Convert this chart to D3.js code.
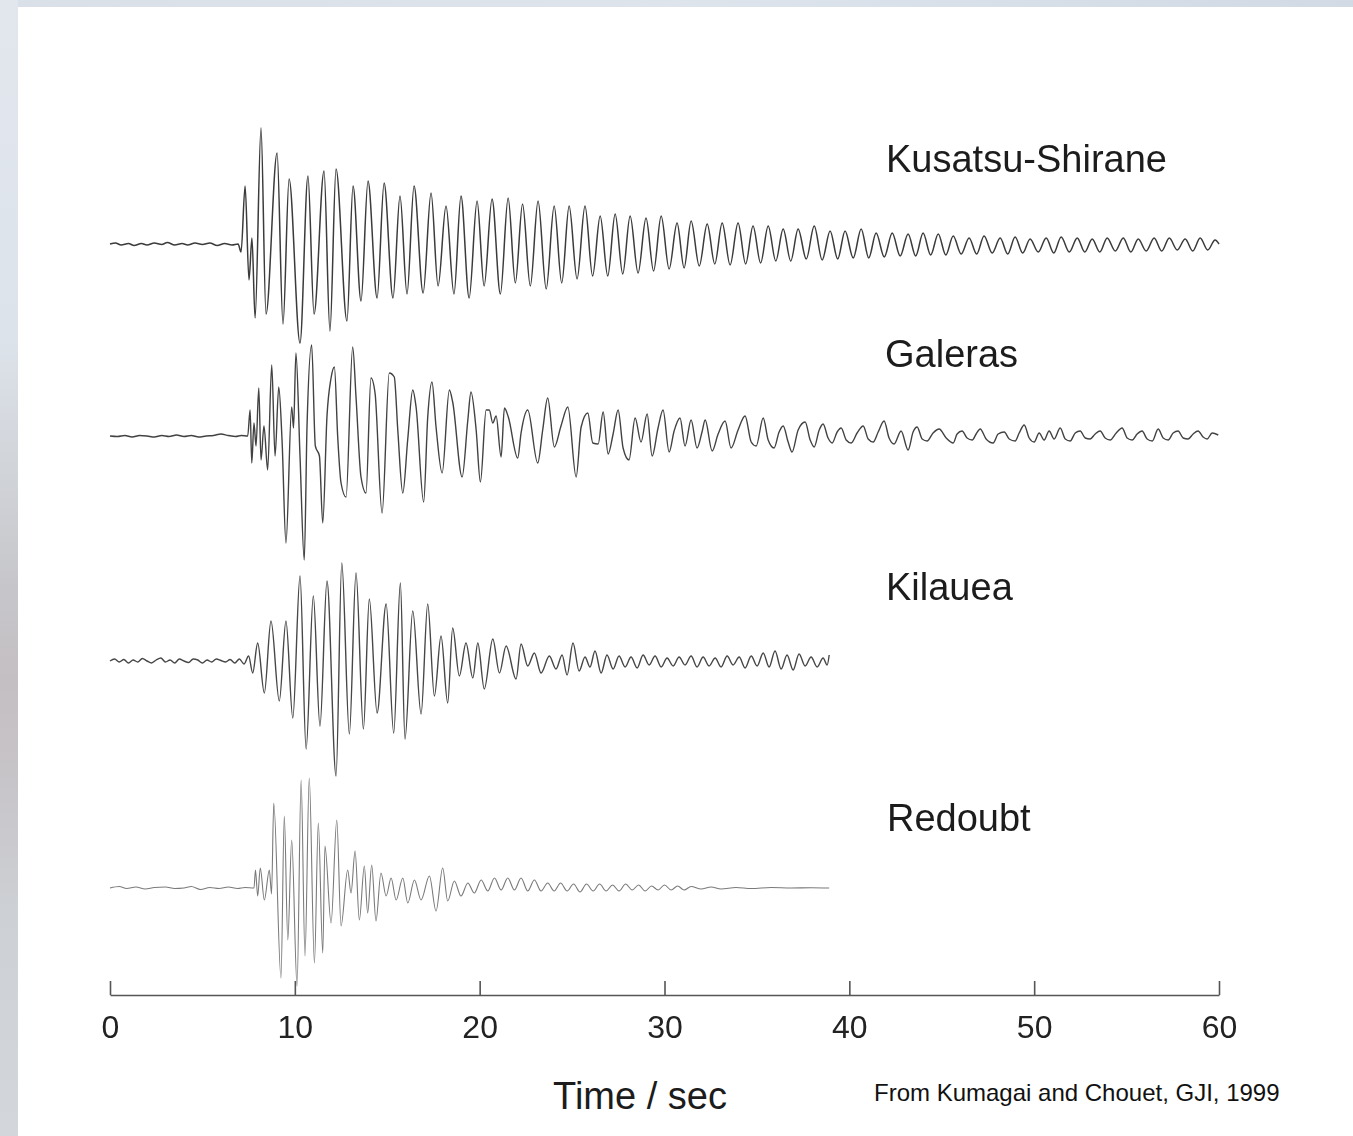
<!DOCTYPE html>
<html><head><meta charset="utf-8">
<script src="https://cdn.jsdelivr.net/npm/d3@7"></script>
<style>html,body{margin:0;padding:0;background:#fff;}svg{display:block}</style>
</head><body>
<svg id="chart" width="1353" height="1136"></svg>
<script>
// ---------------- DATA ----------------
const stations = ["Kusatsu-Shirane", "Galeras", "Kilauea", "Redoubt"];
const tickValues = [0, 10, 20, 30, 40, 50, 60];
const xLabel = "Time / sec";
const credit = "From Kumagai and Chouet, GJI, 1999";

// [time (s), amplitude] – successive extrema
const kusatsu = [[0,0],[0.3,1],[0.6,-1],[1.0,0.5],[1.3,-1.5],[1.7,0.5],[2.0,-1],[2.4,1],[2.8,-0.5],[3.1,1.5],[3.5,-1],[3.9,0.5],[4.2,-1],[4.6,1],[5.0,-0.5],[5.4,1],[5.8,-1.5],[6.2,0.5],[6.6,-1],[6.93,0],
[7.09,-8],[7.31,58],[7.52,-36],[7.68,6],[7.85,-74],[8.17,116],[8.44,-70],[9.04,91],[9.36,-80],[9.69,65],[10.28,-99],[10.71,68],[11.04,-70],[11.58,73],[11.90,-87],[12.23,75],[12.82,-77],[13.15,58],[13.58,-57],[13.96,63],[14.45,-54],[14.83,61],[15.31,-54],[15.69,48],[16.07,-50],[16.45,58],[16.94,-49],[17.37,51],[17.75,-42],[18.18,38],[18.61,-50],[18.99,48],[19.43,-54],[19.86,43],[20.24,-42],[20.67,45],
[21.12,-50],[21.54,46],[21.93,-39],[22.32,40],[22.74,-42],[23.16,43],[23.60,-45],[24.03,38],[24.44,-39],[24.84,38],[25.27,-35],[25.70,38],[26.11,-32],[26.52,28],[26.93,-32],[27.33,30],[27.74,-30],[28.14,28],[28.57,-29],[29.00,26],[29.41,-27],[29.82,28],[30.25,-25],[30.68,21],[31.06,-24],[31.44,23],[31.88,-22],[32.31,20],[32.72,-20],[33.12,21],[33.55,-21],[33.98,21],[34.39,-20],[34.79,18],[35.20,-19],[35.61,18],[36.02,-17],[36.42,15],[36.83,-17],[37.23,15],[37.67,-15],[38.10,18],[38.53,-16],[38.96,13],[39.37,-15],[39.77,13],[40.21,-14],[40.64,15],[41.05,-14],[41.45,11],[41.89,-13],[42.32,11],[42.75,-12],[43.18,10],[43.59,-12],[43.99,11],[44.40,-11],[44.81,10],[45.22,-11],[45.62,8],[46.05,-10],[46.48,6],[46.89,-10],[47.29,8],[47.73,-9],[48.16,6],[48.57,-10],[48.97,7],[49.38,-9],[49.78,5],[50.22,-8],[50.65,6],[51.06,-9],[51.46,7],[51.90,-8],[52.33,6],[52.74,-8],[53.14,5],[53.55,-8],[53.95,6],[54.39,-7],[54.82,6],[55.23,-8],[55.63,5],[56.06,-7],[56.49,6],[56.90,-7],[57.31,6],[57.74,-6],[58.17,5],[58.58,-7],[58.98,6],[59.39,-6],[59.79,4],[60.0,0]];

const galeras = [[0,0],[0.4,-0.5],[0.8,0.5],[1.2,-1],[1.6,0.5],[2.0,0],[2.4,-1],[2.8,0.5],[3.2,-0.5],[3.6,1],[4.0,-0.5],[4.4,0.5],[4.8,-1],[5.2,0],[5.6,0.5],[6.0,2],[6.4,0.5],[6.8,-0.5],[7.1,0.5],[7.45,0],
[7.58,26],[7.67,-27],[7.79,13],[7.90,-10],[8.05,48],[8.17,-24],[8.33,10],[8.53,-34],[8.75,71],[8.93,-20],[9.13,49],[9.31,-5],[9.52,-107],[9.83,29],[9.93,8],[10.06,83],[10.28,-20],[10.51,-124],[10.66,10],[10.91,91],[11.11,-10],[11.33,-20],[11.51,-87],[11.74,20],[11.96,58],[12.14,69],[12.32,-1],[12.50,-47],[12.77,-61],[13.13,89],[13.31,39],[13.58,-41],[13.85,-57],[14.12,58],[14.34,43],[14.72,-77],[15.11,63],[15.38,59],[15.57,6],[15.84,-57],[16.11,-3],[16.38,46],[16.56,29],[16.97,-66],[17.19,19],[17.42,54],[17.64,9],[17.97,-37],[18.36,46],[18.54,34],[19.05,-41],[19.36,16],[19.53,44],[19.81,6],[20.04,-46],[20.35,26],[20.52,26],[20.71,13],[20.89,20],[21.16,-21],[21.34,28],[21.55,19],[22.06,-22],[22.24,3],[22.60,26],[23.14,-27],[23.41,6],[23.68,38],[24.04,-11],[24.40,10],[24.77,29],[25.22,-41],[25.49,9],[25.85,23],[26.12,-7],
[26.41,-8],[26.68,24],[26.95,-18],[27.22,2],[27.49,26],[27.76,-12],[28.08,-24],[28.41,18],[28.73,-6],[29.06,22],[29.33,-20],[29.65,8],[29.92,26],[30.25,-16],[30.52,5],[30.84,18],[31.11,-10],[31.44,16],[31.76,-12],[32.03,4],[32.20,16],[32.58,-15],[32.90,2],[33.28,15],[33.60,-12],[33.98,6],[34.36,20],[34.69,-6],[34.96,-10],[35.34,18],[35.61,-4],[35.93,-12],[36.20,4],[36.42,10],[36.69,-6],[36.90,-16],[37.23,6],[37.61,14],[37.88,-4],[38.10,-11],[38.37,6],[38.58,12],[38.85,-2],[39.07,-7],[39.34,4],[39.56,8],[39.83,-4],[40.10,-7],[40.42,3],[40.75,10],[41.02,-3],[41.29,-6],[41.56,4],[41.88,15],[42.15,-2],[42.42,-8],[42.80,5],[43.18,-14],[43.45,4],[43.67,9],[43.94,-3],[44.21,-5],[44.53,3],[44.86,7],[45.24,-2],[45.62,-7],[45.83,2],[46.10,5],[46.37,-2],[46.65,-4],[46.86,2],[47.08,7],[47.40,-3],[47.78,-7],[48.05,2],[48.38,4],[48.65,-3],[48.97,-5],[49.19,3],[49.46,11],[49.73,-2],[50.00,-6],[50.27,3],[50.54,-4],[50.81,5],[51.08,-3],[51.41,8],[51.68,-3],[51.95,-5],[52.22,3],[52.49,5],[52.76,-2],[53.03,-3],[53.30,2],[53.57,5],[53.84,-2],[54.11,-4],[54.44,3],[54.76,8],[55.03,-2],[55.30,-4],[55.57,2],[55.84,5],[56.11,-3],[56.39,-5],[56.71,7],[56.98,-2],[57.25,-4],[57.52,3],[57.79,5],[58.06,-2],[58.33,-3],[58.60,2],[58.87,5],[59.14,-1],[59.36,-3],[59.63,3],[59.96,1]];

const kilauea = [[0,0],[0.25,2],[0.5,-1],[0.75,1.5],[1.0,-2],[1.25,1],[1.5,-1],[1.75,2.5],[2.0,0],[2.25,-2],[2.5,1],[2.75,3],[3.0,-1],[3.25,1],[3.5,-2],[3.75,2],[4.0,0],[4.25,-1.5],[4.5,2],[4.75,1],[5.0,-2],[5.25,1],[5.5,-1],[5.75,2],[6.0,0.5],[6.25,-1],[6.5,1.5],[6.75,-2],[7.0,2],[7.25,-3],[7.5,5],
[7.72,-12],[7.99,18],[8.35,-32],[8.71,40],[9.16,-40],[9.52,40],[9.89,-57],[10.28,85],[10.61,-88],[11.00,65],[11.36,-65],[11.74,80],[12.23,-115],[12.54,98],[12.95,-73],[13.31,88],[13.71,-68],[14.03,62],[14.45,-52],[14.94,57],[15.35,-72],[15.71,78],[15.96,-78],[16.38,50],[16.83,-53],[17.19,57],[17.55,-35],[17.91,25],[18.27,-42],[18.54,33],[18.90,-15],[19.26,18],[19.63,-17],[19.90,18],[20.25,-28],[20.71,22],[21.07,-12],[21.43,15],[21.97,-18],[22.24,17],[22.60,-5],[22.96,8],[23.32,-12],[23.77,5],
[24.13,-8],[24.46,6],[24.73,-14],[25.05,18],[25.38,-10],[25.70,4],[25.97,-6],[26.24,10],[26.57,-12],[26.89,6],[27.22,-8],[27.54,5],[27.87,-6],[28.19,4],[28.52,-7],[28.84,6],[29.17,-4],[29.49,5],[29.82,-6],[30.14,3],[30.47,-5],[30.79,4],[31.11,-4],[31.44,5],[31.76,-6],[32.09,4],[32.41,-5],[32.74,3],[33.06,-6],[33.39,5],[33.71,-4],[34.04,4],[34.36,-7],[34.69,5],[35.01,-5],[35.34,8],[35.66,-6],[35.98,10],[36.31,-8],[36.63,6],[36.96,-9],[37.28,7],[37.61,-5],[37.93,4],[38.26,-6],[38.58,3],[38.80,-4],[38.91,6]];

const redoubt = [[0,0],[0.5,1.5],[0.9,-0.5],[1.4,1],[1.9,-1],[2.4,0.5],[3.0,1],[3.5,-0.5],[4.0,0],[4.4,1.5],[4.9,-1.5],[5.4,0.5],[5.9,-0.5],[6.4,1],[6.9,-0.5],[7.3,0.5],[7.79,0],
[7.87,18],[7.99,-8],[8.13,20],[8.35,-12],[8.62,18],[8.74,-6],[8.86,85],[9.25,-90],[9.43,72],[9.62,-52],[9.83,48],[10.12,-98],[10.34,108],[10.55,-68],[10.78,110],[11.06,-75],[11.27,65],[11.51,-65],[11.63,42],[11.96,-35],[12.27,68],[12.50,-38],[12.86,18],[13.04,-5],[13.26,37],[13.49,-32],[13.76,22],[13.94,-25],[14.16,23],[14.39,-33],[14.66,15],[14.94,-8],[15.21,10],[15.48,-12],[15.84,10],[16.11,-15],[16.47,8],[16.83,-12],[17.28,12],[17.64,-23],[18.00,20],[18.27,-13],[18.63,7],[18.99,-8],[19.36,5],[19.71,-5],[20.08,8],[20.44,-3],[20.80,10],[21.16,-2],[21.52,10],[21.88,-2],[22.24,10],[22.60,-3],[22.96,8],[23.32,-3],[23.68,5],
[24.03,-3],[24.38,5],[24.73,-3],[25.08,4],[25.43,-4],[25.78,4],[26.14,-3],[26.49,4],[26.84,-3],[27.19,3],[27.54,-3],[27.90,4],[28.25,-2],[28.60,3],[28.95,-3],[29.30,2],[29.65,-2],[30.00,3],[30.36,-2],[30.71,2],[31.06,-2],[31.44,1.5],[31.98,-1],[32.52,1],[33.06,-1],[33.87,0.5],[34.69,-0.5],[35.77,0.5],[36.85,0],[37.93,0.3],[38.91,0]];

const traces = [kusatsu, galeras, kilauea, redoubt];

// ---------------- LAYOUT ----------------
const W = 1353, H = 1136;
const rowBaseline = [244, 436, 661, 888];
const labelPos = [[886, 172], [885, 367], [886, 600], [887, 831]];
const traceColor = ["#3a3a3a", "#424242", "#464646", "#7a7a7a"];
const traceWidth = [1.5, 1.4, 1.4, 1.1];

const svg = d3.select("#chart");
const defs = svg.append("defs");
const lg = defs.append("linearGradient").attr("id", "leftStrip").attr("x1", 0).attr("y1", 0).attr("x2", 0).attr("y2", 1);
[[0, "#e2e7ee"], [0.3, "#dde3ea"], [0.42, "#d0d3d8"], [0.52, "#c6c6ca"], [0.6, "#c4bfc2"], [0.68, "#c7c4c8"], [0.8, "#cdd0d4"], [1, "#d3d6da"]]
  .forEach(s => lg.append("stop").attr("offset", s[0]).attr("stop-color", s[1]));
const tg = defs.append("linearGradient").attr("id", "topStrip").attr("x1", 0).attr("y1", 0).attr("x2", 1).attr("y2", 0);
[[0, "#d9e0e8"], [0.5, "#dde4ec"], [1, "#d1dae5"]].forEach(s => tg.append("stop").attr("offset", s[0]).attr("stop-color", s[1]));
defs.append("filter").attr("id", "soft").append("feGaussianBlur").attr("stdDeviation", 0.45);

svg.append("rect").attr("width", W).attr("height", H).attr("fill", "#fff");
svg.append("rect").attr("width", W).attr("height", 7).attr("fill", "url(#topStrip)");
svg.append("rect").attr("width", 18).attr("height", H).attr("fill", "url(#leftStrip)");

const x = d3.scaleLinear().domain([0, 60]).range([110, 1219]);
const amp = d3.scaleLinear().domain([-100, 100]).range([100, -100]);
const line = d3.line().x(d => x(d[0])).y(d => amp(d[1])).curve(d3.curveMonotoneX);

const rows = svg.append("g").attr("filter", "url(#soft)");
traces.forEach((tr, i) => {
  rows.append("path")
    .attr("transform", `translate(0,${rowBaseline[i]})`)
    .attr("d", line(tr))
    .attr("fill", "none")
    .attr("stroke", traceColor[i])
    .attr("stroke-width", traceWidth[i])
    .attr("stroke-linejoin", "round");
});

const font = "'Liberation Sans', Arial, Helvetica, sans-serif";
stations.forEach((s, i) => {
  svg.append("text").attr("x", labelPos[i][0]).attr("y", labelPos[i][1])
    .attr("font-family", font).attr("font-size", 38).attr("fill", "#1c1c1c").text(s);
});

const axis = d3.axisBottom(x).tickValues(tickValues).tickSizeInner(-14).tickSizeOuter(0).tickPadding(20)
  .tickFormat(d3.format("d"));
const ax = svg.append("g").attr("transform", "translate(0,995)").call(axis);
ax.select(".domain").attr("stroke", "#555").attr("stroke-width", 1.6);
ax.selectAll(".tick line").attr("stroke", "#555").attr("stroke-width", 1.6);
ax.selectAll(".tick text").attr("font-family", font).attr("font-size", 32).attr("fill", "#222");

svg.append("text").attr("x", 640).attr("y", 1109).attr("text-anchor", "middle")
  .attr("font-family", font).attr("font-size", 38).attr("fill", "#1c1c1c").text(xLabel);
svg.append("text").attr("x", 874).attr("y", 1101)
  .attr("font-family", font).attr("font-size", 24).attr("fill", "#111").text(credit);
</script>
</body></html>
